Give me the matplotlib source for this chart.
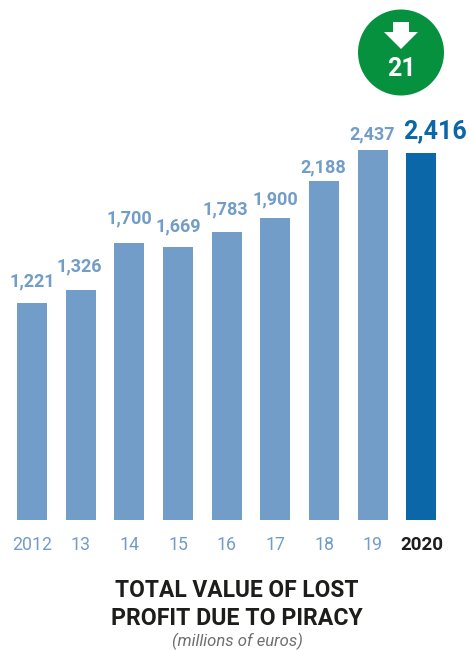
import matplotlib
matplotlib.use("Agg")
import matplotlib.pyplot as plt
from matplotlib.patches import Circle, Polygon

plt.rcParams['font.family'] = ['Roboto', 'DejaVu Sans']

years = ['2012', '13', '14', '15', '16', '17', '18', '19', '2020']
values = [1221, 1326, 1700, 1669, 1783, 1900, 2188, 2437, 2416]
value_labels = ['1,221', '1,326', '1,700', '1,669', '1,783', '1,900', '2,188', '2,437', '2,416']
change = '21'

# label nudges in pixels, the labels sit by hand around the bars
label_dx = [0, -1, 0, 0, -1, 0, -1, -1, 14]
label_dy = [17, 18, 19, 15, 18, 13, 9, 11, 14]

W, H = 469, 650
BASE_Y = 520       # pixel row of the bar bottoms
STEP = 48.68       # pixels between bars
FIRST_X = 32
PX_PER_UNIT = 0.1258
FLOOR = -504       # value axis does not start at zero

LIGHT = '#719dc8'
DARK = '#0b67a8'
GREEN = '#06913f'
BLACK = '#1d1d1b'

fig = plt.figure(figsize=(W / 100, H / 100), dpi=100)
ax = fig.add_axes([0, (H - BASE_Y) / H, 1, BASE_Y / H])
ax.set_xlim(-FIRST_X / STEP, (W - FIRST_X) / STEP)
ax.set_ylim(FLOOR, FLOOR + BASE_Y / PX_PER_UNIT)
ax.axis('off')

colors = [LIGHT] * 8 + [DARK]
xs = list(range(len(values)))
ax.bar(xs, [v - FLOOR for v in values], bottom=FLOOR, width=30 / STEP, color=colors)

for i, v in enumerate(values):
    last = i == len(values) - 1
    ax.annotate(value_labels[i], (i, v), xytext=(label_dx[i], label_dy[i]),
                textcoords='offset pixels', ha='center', va='baseline',
                color=DARK if last else LIGHT, fontweight='bold',
                fontsize=18 if last else 13)
    ax.annotate(years[i], (i, FLOOR), xytext=(0, -30), textcoords='offset pixels',
                ha='center', va='baseline', annotation_clip=False,
                color=BLACK if last else LIGHT, fontweight='bold' if last else 'normal',
                fontsize=13.5 if last else 12.8)

# titles
fig.text(237 / W, 1 - 597 / H, 'TOTAL VALUE OF LOST', ha='center', va='baseline',
         fontsize=16.4, fontweight='bold', color=BLACK)
fig.text(237 / W, 1 - 625 / H, 'PROFIT DUE TO PIRACY', ha='center', va='baseline',
         fontsize=16.7, fontweight='bold', color=BLACK)
fig.text(237 / W, 1 - 646 / H, '(millions of euros)', ha='center', va='baseline',
         fontsize=12, fontstyle='italic', color='#6f6f6e')

# green badge with the down arrow
overlay = fig.add_axes([0, 0, 1, 1])
overlay.set_xlim(0, W)
overlay.set_ylim(H, 0)
overlay.axis('off')
overlay.add_patch(Circle((401, 52.5), 43, color=GREEN, lw=0))
overlay.add_patch(Polygon([(393, 22), (409, 22), (409, 32), (418, 32), (401, 49),
                           (384, 32), (393, 32)], closed=True, color='white', lw=0))
overlay.text(401, 76, change, ha='center', va='baseline', color='white',
             fontsize=18, fontweight='bold')

fig.savefig('out.png', dpi=100)
